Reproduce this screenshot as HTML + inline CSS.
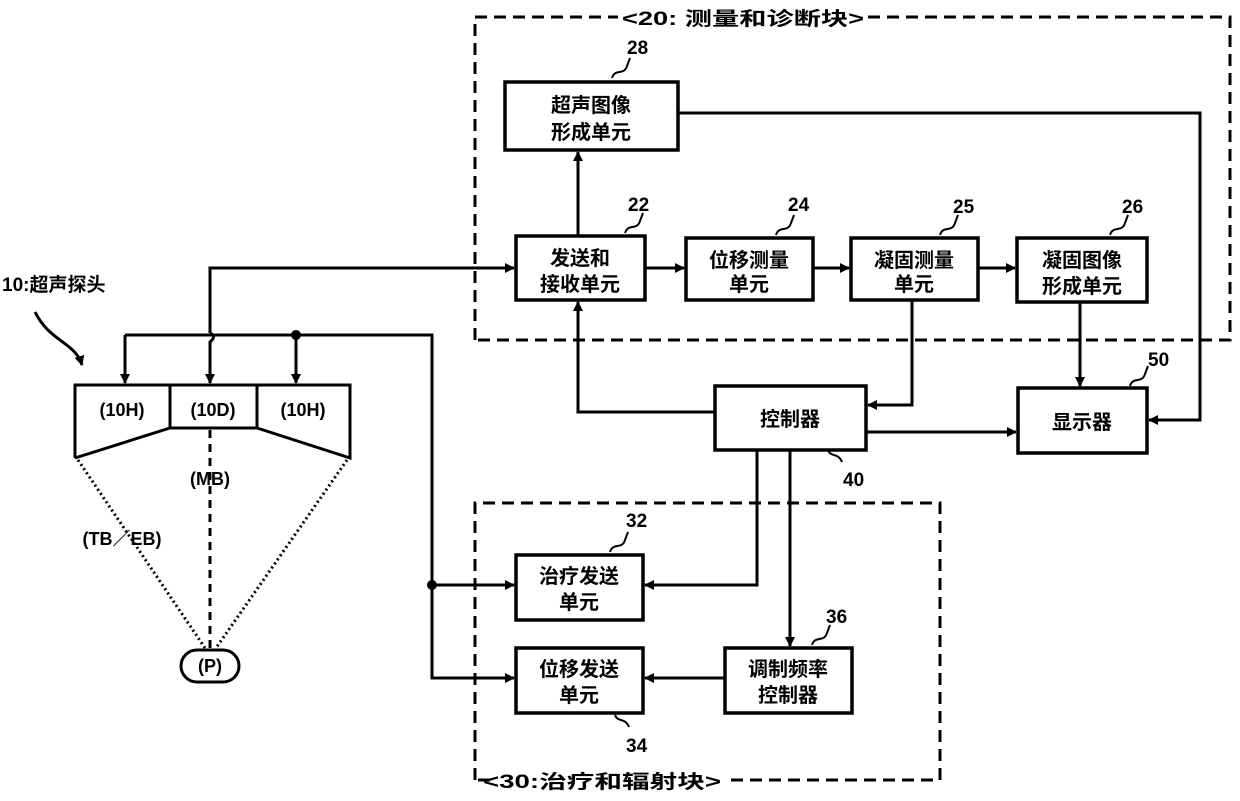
<!DOCTYPE html>
<html><head><meta charset="utf-8"><style>
body{margin:0;background:#fff}
text{font-family:"Liberation Sans","Noto Sans CJK SC",sans-serif;font-weight:bold;fill:#000}
</style></head><body>
<svg width="1240" height="796" viewBox="0 0 1240 796" xmlns="http://www.w3.org/2000/svg">
<defs><marker id="a" markerWidth="10" markerHeight="10" refX="9" refY="5" orient="auto" markerUnits="userSpaceOnUse"><path d="M0,0 L10,5 L0,10 z" fill="#000"/></marker></defs>
<g fill="none" stroke="#000" stroke-width="3" stroke-dasharray="12,7">
<path d="M475,340 V17 H618 M868,17 H1230 V340 H475"/>
<path d="M475,780 V503 H940 V780 H725 M490,780 H475"/>
</g>
<text x="622" y="25" font-size="19" textLength="242" lengthAdjust="spacingAndGlyphs">&lt;20: 测量和诊断块&gt;</text>
<text x="483" y="788" font-size="19" textLength="238" lengthAdjust="spacingAndGlyphs">&lt;30:治疗和辐射块&gt;</text>
<g fill="#fff" stroke="#000" stroke-width="3.5">
<rect x="505" y="82" width="173" height="68"/>
<rect x="516" y="236" width="129" height="64"/>
<rect x="686" y="238" width="127" height="62"/>
<rect x="851" y="238" width="127" height="62"/>
<rect x="1017" y="238" width="130" height="64"/>
<rect x="715" y="386" width="151" height="64"/>
<rect x="1018" y="388" width="129" height="65"/>
<rect x="516" y="555" width="127" height="65"/>
<rect x="516" y="648" width="127" height="65"/>
<rect x="725" y="648" width="127" height="65"/>
</g>
<g font-size="20" text-anchor="middle">
<text x="591" y="112">超声图像</text><text x="591" y="139">形成单元</text>
<text x="580" y="265">发送和</text><text x="580" y="291">接收单元</text>
<text x="749" y="267">位移测量</text><text x="749" y="291">单元</text>
<text x="914" y="267">凝固测量</text><text x="914" y="291">单元</text>
<text x="1082" y="267">凝固图像</text><text x="1082" y="293">形成单元</text>
<text x="790" y="426">控制器</text>
<text x="1082" y="429">显示器</text>
<text x="579" y="583">治疗发送</text><text x="579" y="609">单元</text>
<text x="579" y="676">位移发送</text><text x="579" y="702">单元</text>
<text x="788" y="676">调制频率</text><text x="788" y="702">控制器</text>
</g>
<g font-size="19" font-weight="normal">
<text x="627" y="54">28</text><text x="628" y="211">22</text><text x="788" y="211">24</text>
<text x="953" y="213">25</text><text x="1122" y="213">26</text><text x="1148" y="366">50</text>
<text x="843" y="486">40</text><text x="626" y="527">32</text><text x="826" y="623">36</text><text x="626" y="752">34</text>
</g>
<g fill="none" stroke="#000" stroke-width="2">
<path d="M612,78 c3,-10 12,-2 15,-12 l3,-8"/>
<path d="M625,233 c3,-10 12,-2 15,-12 l3,-8"/>
<path d="M776,235 c3,-10 12,-2 15,-12 l3,-8"/>
<path d="M940,235 c3,-10 12,-2 15,-12 l3,-8"/>
<path d="M1110,235 c3,-10 12,-2 15,-12 l3,-8"/>
<path d="M1130,386 c3,-10 12,-2 15,-12 l3,-8"/>
<path d="M828,450 c3,8 10,2 14,12"/>
<path d="M610,552 c3,-10 12,-2 15,-12 l3,-8"/>
<path d="M812,645 c3,-10 12,-2 15,-12 l3,-8"/>
<path d="M615,715 c3,8 10,2 14,12"/>
</g>
<g fill="none" stroke="#000" stroke-width="3">
<path d="M210,333 V268 H514" marker-end="url(#a)"/>
<path d="M210,333 q7,3 0,9 V383" marker-end="url(#a)"/>
<path d="M125,335 H432 V678 H514" marker-end="url(#a)"/>
<path d="M125,335 V383" marker-end="url(#a)"/>
<path d="M296,335 V383" marker-end="url(#a)"/>
<path d="M432,585 H514" marker-end="url(#a)"/>
<path d="M578,236 V152" marker-end="url(#a)"/>
<path d="M678,113 H1200 V420 H1149" marker-end="url(#a)"/>
<path d="M645,268 H684" marker-end="url(#a)"/>
<path d="M813,268 H849" marker-end="url(#a)"/>
<path d="M978,268 H1015" marker-end="url(#a)"/>
<path d="M912,300 V405 H868" marker-end="url(#a)"/>
<path d="M1080,302 V386" marker-end="url(#a)"/>
<path d="M866,432 H1016" marker-end="url(#a)"/>
<path d="M715,412 H578 V302" marker-end="url(#a)"/>
<path d="M757,450 V585 H645" marker-end="url(#a)"/>
<path d="M790,450 V646" marker-end="url(#a)"/>
<path d="M725,678 H645" marker-end="url(#a)"/>
<path d="M35,312 c15,30 40,30 47,53" marker-end="url(#a)"/>
</g>
<circle cx="296" cy="335" r="5"/><circle cx="432" cy="585" r="5"/>
<g fill="none" stroke="#000" stroke-width="3">
<path d="M75,458 V385 H350 V458 L257,428 H170 L75,458"/>
<path d="M170,385 V428 M257,385 V428"/>
</g>
<g fill="none" stroke="#000" stroke-width="3" stroke-dasharray="2,3">
<path d="M78,460 L205,648 M347,460 L216,648"/>
</g>
<path d="M210,430 V648" stroke="#000" stroke-width="3" stroke-dasharray="8,6"/>
<rect x="181" y="650" width="58" height="32" rx="16" fill="#fff" stroke="#000" stroke-width="3"/>
<g font-size="18" font-weight="normal" text-anchor="middle">
<text x="122" y="416">(10H)</text><text x="213" y="416">(10D)</text><text x="303" y="416">(10H)</text>
<text x="210" y="485">(MB)</text><text x="122" y="545">(TB／EB)</text><text x="210" y="672">(P)</text>
</g>
<text x="2" y="291" font-size="19">10:超声探头</text>
</svg>
</body></html>
